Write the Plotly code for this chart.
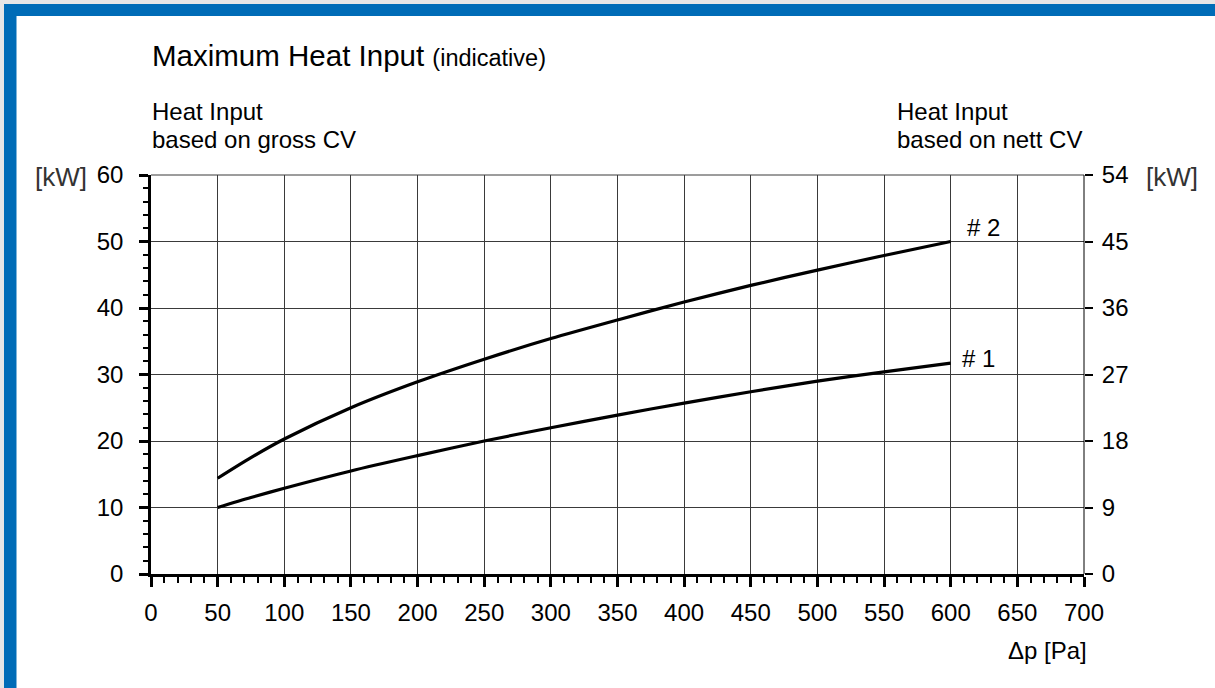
import plotly.graph_objects as go

# ---- data ----
dp_pa = [50, 75, 100, 150, 200, 250, 300, 350, 400, 450, 500, 550, 600]
curve1_kw = [10.0, 11.5, 12.9, 15.5, 17.8, 20.0, 22.0, 23.9, 25.7, 27.4, 29.0, 30.4, 31.7]
curve2_kw = [14.4, 17.5, 20.3, 25.0, 28.9, 32.3, 35.4, 38.2, 40.9, 43.4, 45.7, 47.9, 50.0]
x_ticks = [0, 50, 100, 150, 200, 250, 300, 350, 400, 450, 500, 550, 600, 650, 700]
y_left_ticks = [0, 10, 20, 30, 40, 50, 60]
y_right_ticks = [0, 9, 18, 27, 36, 45, 54]

W, H = 1215, 688
L, R, T, B = 151, 1084, 175, 574
FONT = "Liberation Sans, Arial, sans-serif"
BLUE = "#006cb7"


def px(x):
    return (x - L) / (R - L)


def py(y):
    return (B - y) / (B - T)


fig = go.Figure()
fig.add_trace(go.Scatter(x=dp_pa, y=curve1_kw, mode="lines",
                         line=dict(color="black", width=3.2, shape="spline", smoothing=0.8),
                         showlegend=False, hoverinfo="skip"))
fig.add_trace(go.Scatter(x=dp_pa, y=curve2_kw, mode="lines",
                         line=dict(color="black", width=3.2, shape="spline", smoothing=0.8),
                         showlegend=False, hoverinfo="skip"))
# dummy trace for right axis
fig.add_trace(go.Scatter(x=[0], y=[0], yaxis="y2", mode="markers", marker=dict(opacity=0),
                         showlegend=False, hoverinfo="skip"))

grid_col = "#3a3a3a"
TICKF = dict(size=24)
fig.update_layout(
    width=W, height=H,
    margin=dict(l=L, r=W - R, t=T, b=H - B),
    paper_bgcolor="white", plot_bgcolor="white",
    font=dict(family=FONT, color="black", size=24),
    xaxis=dict(range=[0, 700], tickvals=x_ticks, ticktext=[str(v) for v in x_ticks],
               showgrid=True, gridcolor=grid_col, gridwidth=1,
               showline=True, linecolor="black", linewidth=2.5,
               ticks="outside", ticklen=10, tickwidth=2.5, tickcolor="black",
               minor=dict(dtick=10, ticks="outside", ticklen=6, tickwidth=2, tickcolor="black", showgrid=False),
               zeroline=False, ticklabelstandoff=5, tickfont=TICKF),
    yaxis=dict(range=[0, 60], tickvals=y_left_ticks,
               showgrid=True, gridcolor=grid_col, gridwidth=1,
               showline=True, linecolor="black", linewidth=2.5,
               ticks="outside", ticklen=9, tickwidth=2.5, tickcolor="black",
               minor=dict(dtick=2, ticks="outside", ticklen=5, tickwidth=2, tickcolor="black", showgrid=False),
               zeroline=False, ticklabelstandoff=11, tickfont=TICKF),
    yaxis2=dict(range=[0, 54], tickvals=y_right_ticks, overlaying="y", side="right",
                showgrid=False, showline=False, zeroline=False,
                ticks="outside", ticklen=8, tickwidth=2, tickcolor="black",
                ticklabelstandoff=4, tickfont=TICKF),
)

shapes = []
# top and right plot borders
shapes.append(dict(type="line", xref="x domain", yref="y domain", x0=0, x1=1, y0=1, y1=1,
                   line=dict(color=grid_col, width=1)))
shapes.append(dict(type="line", xref="x domain", yref="y domain", x0=1, x1=1, y0=0, y1=1,
                   line=dict(color="black", width=1)))
# frame: grey page edge and blue bars
shapes.append(dict(type="rect", xref="paper", yref="paper", x0=px(0), x1=px(W), y0=py(0), y1=py(4),
                   fillcolor="#e6e6e6", line=dict(width=0), layer="above"))
shapes.append(dict(type="rect", xref="paper", yref="paper", x0=px(0), x1=px(4), y0=py(0), y1=py(H),
                   fillcolor="#e6e6e6", line=dict(width=0), layer="above"))
shapes.append(dict(type="rect", xref="paper", yref="paper", x0=px(4), x1=px(W), y0=py(4), y1=py(16),
                   fillcolor=BLUE, line=dict(width=0), layer="above"))
shapes.append(dict(type="rect", xref="paper", yref="paper", x0=px(4), x1=px(16.5), y0=py(4), y1=py(H),
                   fillcolor=BLUE, line=dict(width=0), layer="above"))
fig.update_layout(shapes=shapes)

ann = []


def txt(x, y, s, size=24, xanchor="left", color="black"):
    ann.append(dict(xref="paper", yref="paper", x=px(x), y=py(y), text=s, showarrow=False,
                    xanchor=xanchor, yanchor="middle", font=dict(family=FONT, size=size, color=color)))


txt(150, 56, "Maximum Heat Input <span style='font-size:23.5px'>(indicative)</span>", size=29.5)
txt(150, 111, "Heat Input", size=24)
txt(150, 139, "based on gross CV", size=24)
txt(895, 111, "Heat Input", size=24)
txt(895, 139, "based on nett CV", size=24)
txt(33, 177, "[kW]", size=26, color="#333333")
txt(1144, 177, "[kW]", size=26, color="#333333")
txt(1089, 650, "Δp [Pa]", size=24, xanchor="right")
txt(1002, 227, "# 2", size=24, xanchor="right")
txt(997, 358, "# 1", size=24, xanchor="right")
fig.update_layout(annotations=ann)

fig.write_html("out.html", config={"displayModeBar": False},
               post_script="document.body.style.margin='0';")
